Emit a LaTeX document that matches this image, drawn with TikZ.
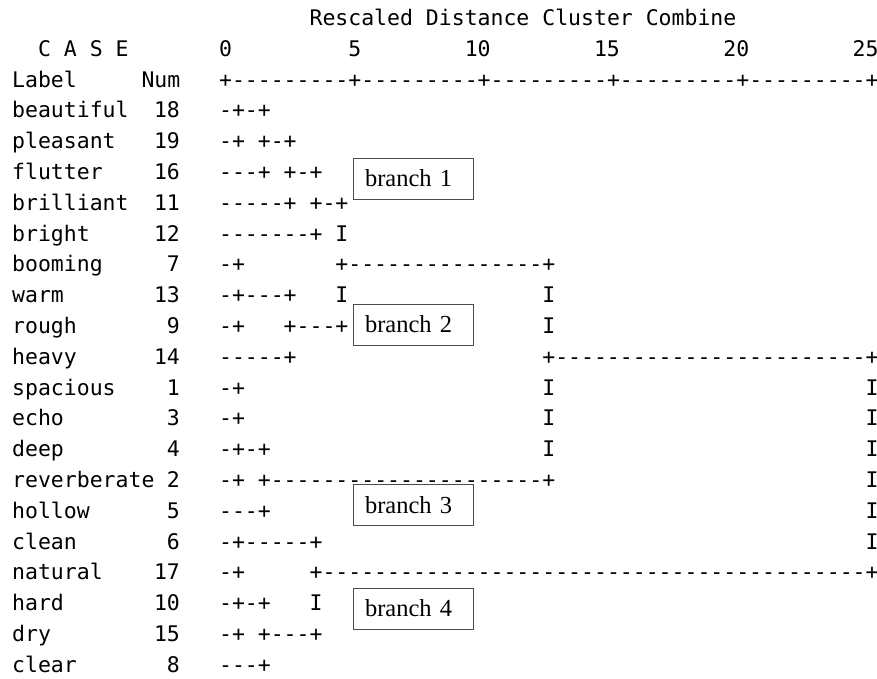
\documentclass[tikz,border=0pt]{standalone}
\usepackage{fontspec}
\setmonofont{DejaVu Sans Mono}
\newfontfamily\boxfont{Liberation Serif}

\tikzset{
  txt/.style={anchor=base west, inner sep=0pt, font=\ttfamily\fontsize{21.48}{31}\selectfont},
  num/.style={txt, anchor=base east},
  branchbox/.style={draw=black!70, line width=0.8pt, fill=white, inner xsep=12pt, inner ysep=0pt,
    text width=96pt, minimum height=41pt, align=left, font=\boxfont\fontsize{24.5}{28}\selectfont}
}

\begin{document}
\begin{tikzpicture}
    \useasboundingbox (0,0) rectangle (877pt,-679pt);

    %branch boxes
    \node[branchbox] (br1) at (413pt,-178.5pt) {branch 1};
    \node[branchbox] (br2) at (413pt,-324.5pt) {branch 2};
    \node[branchbox] (br3) at (413pt,-505pt) {branch 3};
    \node[branchbox] (br4) at (413pt,-608.5pt) {branch 4};

    \begin{scope}[shift={(12pt,-25.5pt)}, x=12.93pt, y=-30.8pt]
    %header
    \node[txt] (title) at (23,0) {Rescaled Distance Cluster Combine};
    \node[txt] (case) at (2,1) {C A S E};
    \node[txt] (s0) at (16,1) {0};
    \node[txt] (s5) at (26,1) {5};
    \node[txt] (s10) at (35,1) {10};
    \node[txt] (s15) at (45,1) {15};
    \node[txt] (s20) at (55,1) {20};
    \node[txt] (s25) at (65,1) {25};
    \node[txt] (label) at (0,2) {Label};
    \node[txt] (numhead) at (10,2) {Num};
    \node[txt] (axis) at (16,2) {+---------+---------+---------+---------+---------+};

    %labels and numbers
    \node[txt] (beautiful) at (0,3) {beautiful};   \node[num] (n18) at (13,3) {18};
    \node[txt] (pleasant) at (0,4) {pleasant};     \node[num] (n19) at (13,4) {19};
    \node[txt] (flutter) at (0,5) {flutter};       \node[num] (n16) at (13,5) {16};
    \node[txt] (brilliant) at (0,6) {brilliant};   \node[num] (n11) at (13,6) {11};
    \node[txt] (bright) at (0,7) {bright};         \node[num] (n12) at (13,7) {12};
    \node[txt] (booming) at (0,8) {booming};       \node[num] (n7) at (13,8) {7};
    \node[txt] (warm) at (0,9) {warm};             \node[num] (n13) at (13,9) {13};
    \node[txt] (rough) at (0,10) {rough};          \node[num] (n9) at (13,10) {9};
    \node[txt] (heavy) at (0,11) {heavy};          \node[num] (n14) at (13,11) {14};
    \node[txt] (spacious) at (0,12) {spacious};    \node[num] (n1) at (13,12) {1};
    \node[txt] (echo) at (0,13) {echo};            \node[num] (n3) at (13,13) {3};
    \node[txt] (deep) at (0,14) {deep};            \node[num] (n4) at (13,14) {4};
    \node[txt] (reverberate) at (0,15) {reverberate}; \node[num] (n2) at (13,15) {2};
    \node[txt] (hollow) at (0,16) {hollow};        \node[num] (n5) at (13,16) {5};
    \node[txt] (clean) at (0,17) {clean};          \node[num] (n6) at (13,17) {6};
    \node[txt] (natural) at (0,18) {natural};      \node[num] (n17) at (13,18) {17};
    \node[txt] (hard) at (0,19) {hard};            \node[num] (n10) at (13,19) {10};
    \node[txt] (dry) at (0,20) {dry};              \node[num] (n15) at (13,20) {15};
    \node[txt] (clear) at (0,21) {clear};          \node[num] (n8) at (13,21) {8};

    %tree
    \node[txt] (r3a) at (16,3) {-+-+};
    \node[txt] (r4a) at (16,4) {-+};       \node[txt] (r4b) at (19,4) {+-+};
    \node[txt] (r5a) at (16,5) {---+};     \node[txt] (r5b) at (21,5) {+-+};
    \node[txt] (r6a) at (16,6) {-----+};   \node[txt] (r6b) at (23,6) {+-+};
    \node[txt] (r7a) at (16,7) {-------+}; \node[txt] (r7b) at (25,7) {I};
    \node[txt] (r8a) at (16,8) {-+};       \node[txt] (r8b) at (25,8) {+---------------+};
    \node[txt] (r9a) at (16,9) {-+---+};   \node[txt] (r9b) at (25,9) {I};   \node[txt] (r9c) at (41,9) {I};
    \node[txt] (r10a) at (16,10) {-+};     \node[txt] (r10b) at (21,10) {+---+}; \node[txt] (r10c) at (41,10) {I};
    \node[txt] (r11a) at (16,11) {-----+}; \node[txt] (r11b) at (41,11) {+------------------------+};
    \node[txt] (r12a) at (16,12) {-+};     \node[txt] (r12b) at (41,12) {I}; \node[txt] (r12c) at (66,12) {I};
    \node[txt] (r13a) at (16,13) {-+};     \node[txt] (r13b) at (41,13) {I}; \node[txt] (r13c) at (66,13) {I};
    \node[txt] (r14a) at (16,14) {-+-+};   \node[txt] (r14b) at (41,14) {I}; \node[txt] (r14c) at (66,14) {I};
    \node[txt] (r15a) at (16,15) {-+};     \node[txt] (r15b) at (19,15) {+---------------------+}; \node[txt] (r15c) at (66,15) {I};
    \node[txt] (r16a) at (16,16) {---+};   \node[txt] (r16b) at (66,16) {I};
    \node[txt] (r17a) at (16,17) {-+-----+}; \node[txt] (r17b) at (66,17) {I};
    \node[txt] (r18a) at (16,18) {-+};     \node[txt] (r18b) at (23,18) {+------------------------------------------+};
    \node[txt] (r19a) at (16,19) {-+-+};   \node[txt] (r19b) at (23,19) {I};
    \node[txt] (r20a) at (16,20) {-+};     \node[txt] (r20b) at (19,20) {+---+};
    \node[txt] (r21a) at (16,21) {---+};
    \end{scope}
\end{tikzpicture}
\end{document}
